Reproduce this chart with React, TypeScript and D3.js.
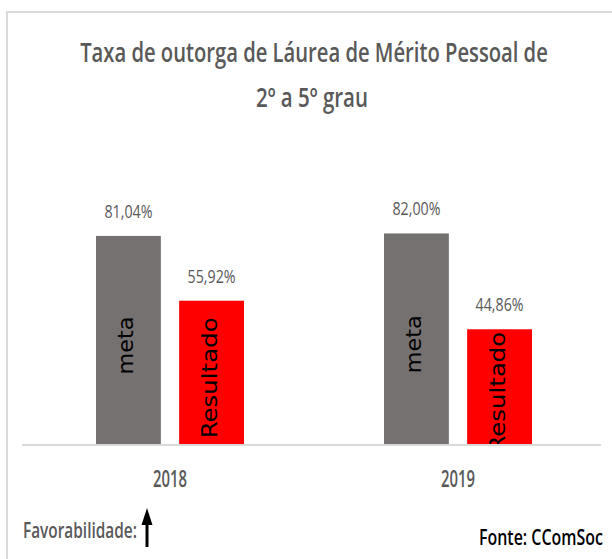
import React from "react";
import * as d3 from "d3";

const categories = ["2018", "2019"];
const series = ["meta", "Resultado"];
const metaValues = [81.04, 82.0];
const resultadoValues = [55.92, 44.86];
const valueLabels = [["81,04%", "55,92%"], ["82,00%", "44,86%"]];
const titleLines = ["Taxa de outorga de Láurea de Mérito Pessoal de", "2º a 5º grau"];
const colors = ["#767171", "#FF0000"];

const W = 612;
const H = 559;

let ctx: CanvasRenderingContext2D | null = null;
function measure(text: string, font: string): number {
  if (!ctx) ctx = document.createElement("canvas").getContext("2d");
  if (!ctx) return text.length * 10;
  ctx.font = font;
  return ctx.measureText(text).width;
}

type CTextProps = {
  x: number;
  y: number;
  text: string;
  width: number;
  size: number;
  family: string;
  weight?: number;
  fill: string;
  anchor?: "start" | "middle" | "end";
  rotate?: number;
};

function CText({ x, y, text, width, size, family, weight = 400, fill, anchor = "start", rotate = 0 }: CTextProps) {
  const natural = measure(text, `${weight} ${size}px ${family}`);
  const k = natural > 0 ? width / natural : 1;
  return (
    <text
      transform={`translate(${x},${y}) rotate(${rotate}) scale(${k},1)`}
      textAnchor={anchor}
      fontFamily={family}
      fontWeight={weight}
      fontSize={size}
      fill={fill}
    >
      {text}
    </text>
  );
}

const OPEN = "'Open Sans', sans-serif";
const DEJAVU = "'DejaVu Sans', Verdana, sans-serif";

export default function App() {
  const x0 = d3.scaleBand<string>().domain(categories).range([26, 602]).padding(0);
  const x1 = d3.scaleBand<string>().domain(series).range([0, 148]).paddingInner(0.22).paddingOuter(0);
  const y = d3.scaleLinear().domain([0, 100]).range([445, 187]);
  const data = categories.map((c, i) => [metaValues[i], resultadoValues[i]]);
  const labelLen: Record<string, number> = { meta: 58, Resultado: 121 };

  return (
    <svg width={W} height={H} style={{ position: "absolute", left: 0, top: 0, background: "#fff" }}>
      <defs>
        <clipPath id="plotclip">
          <rect x={0} y={150} width={W} height={294} />
        </clipPath>
      </defs>
      <rect x={0} y={0} width={W} height={H} fill="#fff" />
      <line x1={6} x2={W} y1={12} y2={12} stroke="#d9d9d9" strokeWidth={2} />
      <line x1={7} x2={7} y1={11} y2={H} stroke="#d9d9d9" strokeWidth={2} />
      <CText x={314} y={62} text={titleLines[0]} width={468} size={27} family={OPEN} weight={600} fill="#595959" anchor="middle" />
      <CText x={312} y={107} text={titleLines[1]} width={112} size={27} family={OPEN} weight={600} fill="#595959" anchor="middle" />
      {categories.map((c, ci) => {
        const gx = (x0(c) as number) + x0.bandwidth() / 2 - 74;
        return (
          <g key={c}>
            {series.map((s, si) => {
              const v = data[ci][si];
              const bx = gx + (x1(s) as number);
              const bw = x1.bandwidth();
              const top = y(v);
              const cx = bx + bw / 2;
              const cy = (top + y(0)) / 2 + 5;
              return (
                <g key={s}>
                  <rect x={bx} y={top} width={bw} height={y(0) - top} fill={colors[si]} />
                  <CText x={cx} y={top - 18} text={valueLabels[ci][si]} width={48} size={18} family={OPEN} fill="#595959" anchor="middle" />
                  <g clipPath="url(#plotclip)">
                    <CText x={cx + 5} y={cy} text={s} width={labelLen[s]} size={21} family={DEJAVU} fill="#000" anchor="middle" rotate={-90} />
                  </g>
                </g>
              );
            })}
            <CText x={(x0(c) as number) + x0.bandwidth() / 2} y={487} text={c} width={34} size={24} family={OPEN} weight={600} fill="#595959" anchor="middle" />
          </g>
        );
      })}
      <line x1={22} x2={601} y1={445} y2={445} stroke="#d9d9d9" strokeWidth={2} />
      <CText x={23} y={538} text="Favorabilidade:" width={114} size={22} family={OPEN} weight={600} fill="#595959" />
      <line x1={147} x2={147} y1={547} y2={520} stroke="#000" strokeWidth={3} />
      <polygon points="141.5,525 147,508 152.5,525" fill="#000" />
      <CText x={479} y={545} text="Fonte: CComSoc" width={124} size={22} family={OPEN} weight={600} fill="#000" />
    </svg>
  );
}
